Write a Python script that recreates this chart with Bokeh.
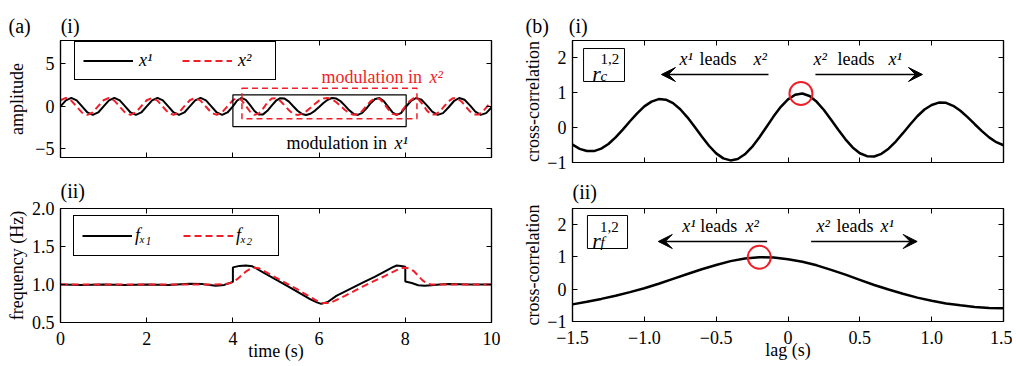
from bokeh.plotting import figure
from bokeh.layouts import row, column
from bokeh.models import (Range1d, LinearAxis, FixedTicker, Legend, LegendItem,
                          Label, Arrow, VeeHead, BoxAnnotation)
from bokeh.embed import file_html
from bokeh.resources import INLINE

# ---------------- data ----------------
# (a)(i) signals: time samples (s) and amplitudes
TIME_PRE = [0.0, 0.125, 0.25, 0.375, 0.5, 0.625, 0.75, 0.875, 1.0, 1.125, 1.25, 1.375,
            1.5, 1.625, 1.75, 1.875, 2.0, 2.125, 2.25, 2.375, 2.5, 2.625, 2.75, 2.875,
            3.0, 3.125, 3.25, 3.375, 3.5, 3.625, 3.75, 3.875]
X1_PRE = [0, 0.707, 1, 0.707, 0, -0.707, -1, -0.707, 0, 0.707, 1, 0.707, 0, -0.707, -1, -0.707,
          0, 0.707, 1, 0.707, 0, -0.707, -1, -0.707, 0, 0.707, 1, 0.707, 0, -0.707, -1, -0.707]
X2_PRE = [0.729, 1.0, 0.685, -0.031, -0.729, -1.0, -0.685, 0.031,
          0.729, 1.0, 0.685, -0.031, -0.729, -1.0, -0.685, 0.031,
          0.729, 1.0, 0.685, -0.031, -0.729, -1.0, -0.685, 0.031,
          0.729, 1.0, 0.685, -0.031, -0.729, -1.0, -0.685, 0.031]
TIME_MOD = [4.0, 4.1, 4.2, 4.3, 4.4, 4.5, 4.6, 4.7, 4.8, 4.9, 5.0, 5.1, 5.2, 5.3, 5.4,
            5.5, 5.6, 5.7, 5.8, 5.9, 6.0, 6.1, 6.2, 6.3, 6.4, 6.5, 6.6, 6.7, 6.8, 6.9,
            7.0, 7.1, 7.2, 7.3, 7.4, 7.5, 7.6, 7.7, 7.8, 7.9, 8.0]
X1_MOD = [0, 0.697, 0.999, 0.766, 0.148, -0.533, -0.951, -0.934, -0.517, 0.105,
          0.673, 0.977, 0.926, 0.562, 0.026, -0.506, -0.877, -1.0, -0.861, -0.515,
          -0.063, 0.404, 0.79, 0.989, 0.93, 0.61, 0.099, -0.454, -0.871, -0.996,
          -0.76, -0.228, 0.405, 0.882, 0.982, 0.635, -0.023, -0.68, -0.997, -0.782, -0.125]
TIME_POST = [8.125, 8.25, 8.375, 8.5, 8.625, 8.75, 8.875, 9.0, 9.125, 9.25, 9.375,
             9.5, 9.625, 9.75, 9.875, 10.0]
X1_POST = [0.613, 0.992, 0.79, 0.125, -0.613, -0.992, -0.79, -0.125,
           0.613, 0.992, 0.79, 0.125, -0.613, -0.992, -0.79, -0.125]
TIME_MOD2 = [4.0, 4.1, 4.2, 4.3, 4.4, 4.5, 4.6, 4.7, 4.8, 4.9, 5.0, 5.1, 5.2, 5.3, 5.4,
             5.5, 5.6, 5.7, 5.8, 5.9, 6.0, 6.1, 6.2, 6.3, 6.4, 6.5, 6.6, 6.7, 6.8, 6.9,
             7.0, 7.1, 7.2, 7.3, 7.4, 7.5, 7.6, 7.7, 7.8, 7.9, 8.0, 8.1, 8.2, 8.3, 8.4,
             8.5, 8.6, 8.7, 8.8, 8.9, 9.0, 9.1, 9.2, 9.3, 9.4, 9.5, 9.6, 9.7, 9.8, 9.9, 10.0]
X2_MOD = [0.729, 1.0, 0.734, 0.075, -0.623, -0.989, -0.834, -0.255, 0.46, 0.934,
          0.958, 0.643, 0.116, -0.448, -0.866, -0.999, -0.876, -0.578, -0.156, 0.292,
          0.683, 0.935, 0.996, 0.841, 0.498, 0.045, -0.416, -0.786, -0.982, -0.93,
          -0.536, 0.063, 0.637, 0.969, 0.905, 0.391, -0.321, -0.873, -0.979, -0.632,
          0.0, 0.632, 0.979, 0.861, 0.267, -0.471, -0.951, -0.951, -0.588, 0.0,
          0.588, 0.951, 0.951, 0.588, 0.0, -0.588, -0.951, -0.951, -0.588, 0.0, 0.588]

# (a)(ii) instantaneous frequencies (Hz)
F1_TIME = [0, 0.5, 1.0, 1.5, 2.0, 2.5, 3.0, 3.3, 3.6, 3.8, 3.95, 4.0, 4.0, 4.15, 4.3,
           4.45, 4.7, 5.0, 5.3, 5.6, 5.8, 5.95, 6.05, 6.2, 6.4, 6.7, 7.0, 7.3, 7.55,
           7.7, 7.8, 7.9, 8.0, 8.0, 8.15, 8.3, 8.45, 8.6, 8.8, 9.0, 9.5, 10.0]
F1_VAL = [1.0, 0.995, 1.0, 0.995, 1.0, 0.995, 1.01, 1.005, 0.985, 0.995, 1.025, 1.035,
          1.225, 1.245, 1.25, 1.24, 1.16, 1.065, 0.97, 0.87, 0.805, 0.765, 0.745, 0.77,
          0.85, 0.935, 1.02, 1.105, 1.18, 1.225, 1.25, 1.245, 1.235, 1.04, 1.02, 0.99,
          0.985, 0.99, 1.0, 1.005, 1.0, 1.0]
F2_TIME = [0, 1, 2, 3, 3.6, 3.8, 3.95, 4.1, 4.2, 4.3, 4.4, 4.5, 4.6, 5.0, 5.5, 5.9,
           6.0, 6.1, 6.2, 6.3, 6.6, 7.0, 7.5, 7.8, 7.9, 8.0, 8.1, 8.2, 8.3, 8.4, 8.5,
           8.6, 9, 10]
F2_VAL = [1.0, 1.0, 1.0, 1.0, 1.0, 1.005, 1.02, 1.07, 1.12, 1.17, 1.205, 1.22, 1.215,
          1.09, 0.935, 0.8, 0.77, 0.755, 0.755, 0.77, 0.85, 0.97, 1.105, 1.19, 1.215,
          1.22, 1.21, 1.175, 1.115, 1.055, 1.015, 1.0, 1.0, 1.0]

# (b) cross-correlations
LAG_C = [-1.5, -1.45, -1.4, -1.35, -1.3, -1.25, -1.2, -1.15, -1.1, -1.05, -1.0, -0.95,
         -0.9, -0.85, -0.8, -0.75, -0.7, -0.65, -0.6, -0.55, -0.5, -0.45, -0.4, -0.35,
         -0.3, -0.25, -0.2, -0.15, -0.1, -0.05, 0.0, 0.05, 0.1, 0.15, 0.2, 0.25, 0.3,
         0.35, 0.4, 0.45, 0.5, 0.55, 0.6, 0.65, 0.7, 0.75, 0.8, 0.85, 0.9, 0.95, 1.0,
         1.05, 1.1, 1.15, 1.2, 1.25, 1.3, 1.35, 1.4, 1.45, 1.5]
RC = [-0.489, -0.608, -0.672, -0.673, -0.601, -0.468, -0.28, -0.056, 0.184, 0.41, 0.61,
      0.746, 0.819, 0.801, 0.704, 0.528, 0.295, 0.025, -0.257, -0.519, -0.738, -0.882,
      -0.94, -0.898, -0.765, -0.553, -0.282, 0.02, 0.324, 0.597, 0.812, 0.944, 0.979,
      0.907, 0.741, 0.507, 0.227, -0.062, -0.336, -0.568, -0.735, -0.818, -0.827,
      -0.751, -0.603, -0.398, -0.159, 0.091, 0.326, 0.521, 0.65, 0.718, 0.713, 0.627,
      0.484, 0.301, 0.098, -0.101, -0.279, -0.417, -0.505]
LAG_F = [-1.5, -1.4, -1.3, -1.2, -1.1, -1.0, -0.9, -0.8, -0.7, -0.6, -0.5, -0.4, -0.3,
         -0.2, -0.1, 0.0, 0.1, 0.2, 0.3, 0.4, 0.5, 0.6, 0.7, 0.8, 0.9, 1.0, 1.1, 1.2,
         1.3, 1.4, 1.5]
RF = [-0.47, -0.39, -0.3, -0.2, -0.09, 0.03, 0.17, 0.32, 0.47, 0.62, 0.75, 0.87, 0.95,
      0.99, 0.98, 0.93, 0.85, 0.74, 0.6, 0.45, 0.29, 0.13, -0.01, -0.14, -0.26, -0.36,
      -0.44, -0.5, -0.55, -0.58, -0.59]
PEAK_C_LAG = [0.09]
PEAK_C_VAL = [0.98]
PEAK_F_LAG = [-0.2]
PEAK_F_VAL = [0.99]

# ticks
TIME_TICKS = [0, 2, 4, 6, 8, 10]
TIME_TICK_LABELS = ["0", "2", "4", "6", "8", "10"]
AMP_TICKS = [-5, 0, 5]
AMP_TICK_LABELS = ["\u22125", "0", "5"]
FREQ_TICKS = [0.5, 1.0, 1.5, 2.0]
FREQ_TICK_LABELS = ["0.5", "1.0", "1.5", "2.0"]
LAG_TICKS = [-1.5, -1.0, -0.5, 0, 0.5, 1.0, 1.5]
LAG_TICK_LABELS = ["\u22121.5", "\u22121.0", "\u22120.5", "0", "0.5", "1.0", "1.5"]
CC_TICKS = [-1, 0, 1, 2]
CC_TICK_LABELS = ["\u22121", "0", "1", "2"]

# ---------------- styling ----------------
FONT = "Liberation Serif"
RED = "#f01e28"
DASH = "7 4"


def make_panel(width, height, borders, xr, yr, xt, xl, yt, yl, show_x,
               xlabel, ylabel, ylabel_standoff, xlabel_standoff,
               title, title_offset, title_standoff):
    left, right, top, bottom = borders
    p = figure(width=width, height=height, x_range=Range1d(*xr), y_range=Range1d(*yr),
               output_backend="svg", toolbar_location=None,
               x_axis_location=None, y_axis_location=None,
               min_border_left=left, min_border_right=right,
               min_border_top=top, min_border_bottom=bottom)
    p.grid.visible = False
    p.outline_line_color = "black"
    p.outline_line_width = 1.2
    p.border_fill_color = "white"
    p.title.text = title
    p.title.align = "left"
    p.title.offset = title_offset
    p.title.standoff = title_standoff
    p.title.text_font = FONT
    p.title.text_font_size = "20px"
    p.title.text_font_style = "normal"
    p.title.text_color = "black"
    for loc in ("below", "above", "left", "right"):
        horiz = loc in ("below", "above")
        ticks = xt if horiz else yt
        labels = xl if horiz else yl
        ax = LinearAxis(ticker=FixedTicker(ticks=ticks))
        ax.axis_line_color = "black"
        ax.axis_line_width = 1.2
        ax.major_tick_in = 5
        ax.major_tick_out = 0
        ax.major_tick_line_color = "black"
        ax.major_tick_line_width = 1
        ax.minor_tick_in = 0
        ax.minor_tick_out = 0
        shown = (loc == "left") or (loc == "below" and show_x)
        if shown:
            ax.major_label_overrides = dict(zip(ticks, labels))
            ax.major_label_text_font = FONT
            ax.major_label_text_font_size = "18px"
            ax.major_label_text_color = "black"
            ax.major_label_standoff = 9 if horiz else 6
        else:
            ax.major_label_overrides = {t: "" for t in ticks}
            ax.major_label_text_font_size = "1px"
            ax.major_label_standoff = 0
        if loc == "left":
            ax.axis_label = ylabel
            ax.axis_label_standoff = ylabel_standoff
        if loc == "below" and xlabel:
            ax.axis_label = xlabel
            ax.axis_label_standoff = xlabel_standoff
        ax.axis_label_text_font = FONT
        ax.axis_label_text_font_size = "18px"
        ax.axis_label_text_font_style = "normal"
        ax.axis_label_text_color = "black"
        p.add_layout(ax, loc)
    return p


def txt(p, x, y, text, size=18, style="normal", align="left", baseline="alphabetic",
        color="black"):
    p.add_layout(Label(x=x, y=y, text=text, text_font=FONT, text_font_size=f"{size}px",
                       text_font_style=style, text_align=align, text_baseline=baseline,
                       text_color=color))


def arrow(p, x0, x1, y):
    p.add_layout(Arrow(x_start=x0, y_start=y, x_end=x1, y_end=y, line_width=1.5,
                       line_color="black",
                       end=VeeHead(size=14, fill_color="black", line_color="black",
                                   line_width=1)))


# ---------------- (a)(i) ----------------
p1 = make_panel(500, 167, (60, 9, 40, 10), (0, 10), (-6, 7.75),
                TIME_TICKS, TIME_TICK_LABELS, AMP_TICKS, AMP_TICK_LABELS, False,
                None, "amplitude", 5, 0, "(a)\u2003\u2002(i)", -52, 8)
r1 = p1.line(TIME_PRE + TIME_MOD + TIME_POST, X1_PRE + X1_MOD + X1_POST,
             line_color="black", line_width=2)
r2 = p1.line(TIME_PRE + TIME_MOD2, X2_PRE + X2_MOD, line_color=RED, line_width=2,
             line_dash=DASH)
p1.add_layout(BoxAnnotation(left=4.0, right=8.02, bottom=-2.36, top=1.37, fill_alpha=0,
                            line_color="black", line_width=1.2, line_alpha=1))
p1.add_layout(BoxAnnotation(left=4.21, right=8.27, bottom=-1.45, top=2.14, fill_alpha=0,
                            line_color=RED, line_width=1.5, line_dash="6 4", line_alpha=1))
leg1 = Legend(items=[LegendItem(label="x\u00b9", renderers=[r1]),
                     LegendItem(label="x\u00b2", renderers=[r2])],
              orientation="horizontal", location=(14, 77), padding=8, spacing=14,
              glyph_width=50, glyph_height=21, label_standoff=6, label_width=29,
              label_text_font=FONT, label_text_font_style="italic",
              label_text_font_size="18px", label_text_color="black",
              border_line_color="black",
              border_line_width=1, border_line_alpha=1, background_fill_alpha=1, margin=0)
p1.add_layout(leg1)
txt(p1, 8.492, 3.45, "modulation in ", align="right", color=RED)
txt(p1, 8.561, 3.45, "x\u00b2", style="italic", color=RED)
txt(p1, 7.68, -4.24, "modulation in ", align="right")
txt(p1, 7.749, -4.24, "x\u00b9", style="italic")

# ---------------- (a)(ii) ----------------
p2 = make_panel(500, 197, (60, 8, 41, 42), (0, 10), (0.5, 2.0),
                TIME_TICKS, TIME_TICK_LABELS, FREQ_TICKS, FREQ_TICK_LABELS, True,
                "time (s)", "frequency (Hz)", 2, -7, "(ii)", 0, 13)
r3 = p2.line(F1_TIME, F1_VAL, line_color="black", line_width=2)
r4 = p2.line(F2_TIME, F2_VAL, line_color=RED, line_width=2, line_dash=DASH)
leg2 = Legend(items=[LegendItem(label="f\u2093\u2081", renderers=[r3]),
                     LegendItem(label="f\u2093\u2082", renderers=[r4])],
              orientation="horizontal", location=(13, 66), padding=8, spacing=14,
              glyph_width=50, glyph_height=23, label_standoff=3, label_width=34,
              label_text_font=FONT, label_text_font_style="italic",
              label_text_font_size="18px", label_text_color="black",
              border_line_color="black",
              border_line_width=1, border_line_alpha=1, background_fill_alpha=1, margin=0)
p2.add_layout(leg2)

# ---------------- (b)(i) ----------------
p3 = make_panel(512, 173, (72, 9, 40, 11), (-1.5, 1.5), (-1, 2.5),
                LAG_TICKS, LAG_TICK_LABELS, CC_TICKS, CC_TICK_LABELS, False,
                None, "cross-correlation", 1, 0, "(b)\u2003(i)", -47, 8)
p3.line(LAG_C, RC, line_color="black", line_width=2.5)
p3.scatter(PEAK_C_LAG, PEAK_C_VAL, marker="circle", size=23, fill_alpha=0,
           line_color=RED, line_width=2)
p3.add_layout(BoxAnnotation(left=-1.423, right=-1.138, bottom=1.324, top=2.27,
                            fill_alpha=0, line_color="black", line_width=1, line_alpha=1))
txt(p3, -1.363, 1.555, "r", size=22, style="italic")
txt(p3, -1.305, 1.955, "1,2", size=15)
txt(p3, -1.305, 1.48, "c", size=15, style="italic")
arrow(p3, -0.136, -0.881, 1.525)
arrow(p3, 0.191, 0.936, 1.525)
txt(p3, -0.755, 1.983, "x\u00b9", style="italic")
txt(p3, -0.616, 1.983, "leads")
txt(p3, -0.240, 1.983, "x\u00b2", style="italic")
txt(p3, 0.177, 1.983, "x\u00b2", style="italic")
txt(p3, 0.344, 1.983, "leads")
txt(p3, 0.699, 1.983, "x\u00b9", style="italic")

# ---------------- (b)(ii) ----------------
p4 = make_panel(512, 191, (72, 9, 35, 43), (-1.5, 1.5), (-1, 2.5),
                LAG_TICKS, LAG_TICK_LABELS, CC_TICKS, CC_TICK_LABELS, True,
                "lag (s)", "cross-correlation", 1, -7, "(ii)", 0, 11)
p4.line(LAG_F, RF, line_color="black", line_width=2.5)
p4.scatter(PEAK_F_LAG, PEAK_F_VAL, marker="circle", size=23, fill_alpha=0,
           line_color=RED, line_width=2)
p4.add_layout(BoxAnnotation(left=-1.396, right=-1.117, bottom=1.261, top=2.283,
                            fill_alpha=0, line_color="black", line_width=1, line_alpha=1))
txt(p4, -1.363, 1.51, "r", size=22, style="italic")
txt(p4, -1.309, 1.94, "1,2", size=15)
txt(p4, -1.305, 1.45, "f", size=15, style="italic")
arrow(p4, -0.145, -0.903, 1.478)
arrow(p4, 0.161, 0.899, 1.478)
txt(p4, -0.736, 1.943, "x\u00b9", style="italic")
txt(p4, -0.611, 1.943, "leads")
txt(p4, -0.296, 1.943, "x\u00b2", style="italic")
txt(p4, 0.198, 1.943, "x\u00b2", style="italic")
txt(p4, 0.338, 1.943, "leads")
txt(p4, 0.644, 1.943, "x\u00b9", style="italic")

layout = row(column(p1, p2), column(p3, p4))
open("out.html", "w").write(file_html(layout, INLINE))
